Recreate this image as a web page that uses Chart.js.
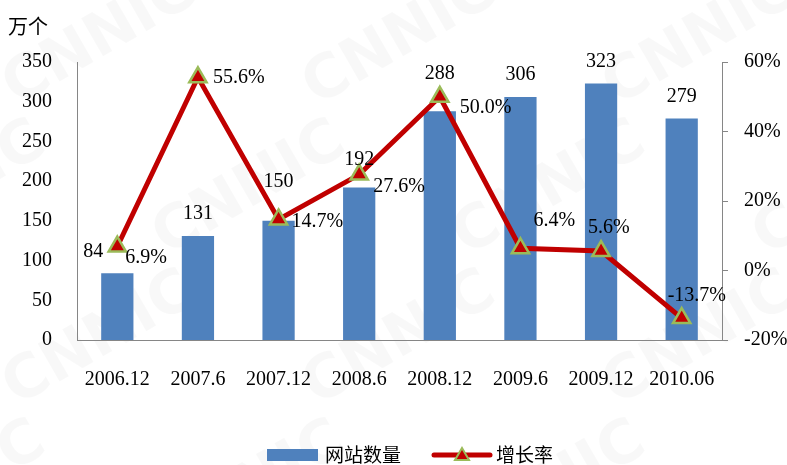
<!DOCTYPE html>
<html>
<head>
<meta charset="utf-8">
<script src="https://cdn.jsdelivr.net/npm/chart.js@4.4.0/dist/chart.umd.min.js"></script>
<style>
html,body{margin:0;padding:0;background:#fff;}
canvas{display:block;}
</style>
</head>
<body>
<canvas id="c" width="787" height="465"></canvas>
<script>
// ---- data ----
const categories = ['2006.12','2007.6','2007.12','2008.6','2008.12','2009.6','2009.12','2010.06'];
const siteCounts = [84, 131, 150, 192, 288, 306, 323, 279];
const growthRates = [6.9, 55.6, 14.7, 27.6, 50.0, 6.4, 5.6, -13.7];
const leftTicks = [0, 350, 50];
const rightTicks = [-20, 60, 20];
const seriesNames = ['网站数量', '增长率'];
const unitLabel = '万个';
// label nudges (pixels, relative to default placement)
const barLabelNudge = [[-24,0],[0,0],[0,-17],[0,-6],[0,-15],[0,0],[0,0],[0,0]];
const rateLabelNudge = [[8,11],[15,0],[13,2],[14,12],[20,11],[13,-28],[-13,-23],[-14,-22]];

const SERIF = '"Liberation Serif","Times New Roman",serif';
const CJK = '"Noto Sans CJK SC","Noto Sans",sans-serif';
const AXIS = '#868686';
const BAR = '#4F81BD';
const LINE = '#C00000';
const MARK = '#9BBB59';

const watermark = {
  id: 'watermark',
  beforeDraw(chart) {
    const ctx = chart.ctx;
    ctx.save();
    ctx.fillStyle = 'rgba(0,0,0,0.028)';
    ctx.font = 'bold 60px "DejaVu Sans", sans-serif';
    ctx.textAlign = 'center';
    ctx.textBaseline = 'middle';
    for (let row = -1; row < 4; row++) {
      for (let col = -1; col < 4; col++) {
        const x = col * 300 + (row % 2 ? 150 : 0) + 100;
        const y = row * 150 + 40;
        ctx.save();
        ctx.translate(x, y);
        ctx.rotate(-Math.PI / 6);
        ctx.fillText('CNNIC', 0, 0);
        ctx.restore();
      }
    }
    ctx.restore();
  }
};

const labels = {
  id: 'labels',
  afterDatasetsDraw(chart) {
    const ctx = chart.ctx;
    ctx.save();
    ctx.fillStyle = '#000';
    ctx.font = '20px ' + SERIF;
    ctx.textBaseline = 'middle';
    const barMeta = chart.getDatasetMeta(0);
    barMeta.data.forEach((el, i) => {
      const n = barLabelNudge[i];
      ctx.textAlign = 'center';
      ctx.fillText(String(siteCounts[i]), el.x + n[0], el.y - 22 + n[1]);
    });
    const lineMeta = chart.getDatasetMeta(1);
    lineMeta.data.forEach((el, i) => {
      const n = rateLabelNudge[i];
      ctx.textAlign = 'left';
      ctx.fillText(growthRates[i].toFixed(1) + '%', el.x + n[0], el.y + n[1]);
    });
    // unit label
    ctx.font = '20px ' + CJK;
    ctx.textAlign = 'left';
    ctx.fillText(unitLabel, 8, 26);
    // legend
    const ly = 455;
    ctx.fillStyle = BAR;
    ctx.fillRect(267, ly - 6, 51, 12);
    ctx.fillStyle = '#000';
    ctx.font = '19px ' + CJK;
    ctx.fillText(seriesNames[0], 325, ly);
    ctx.strokeStyle = LINE;
    ctx.lineWidth = 5;
    ctx.lineCap = 'round';
    ctx.beginPath();
    ctx.moveTo(434, ly);
    ctx.lineTo(490, ly);
    ctx.stroke();
    ctx.beginPath();
    ctx.moveTo(462, ly - 7);
    ctx.lineTo(469, ly + 5);
    ctx.lineTo(455, ly + 5);
    ctx.closePath();
    ctx.fillStyle = LINE;
    ctx.fill();
    ctx.strokeStyle = MARK;
    ctx.lineWidth = 2;
    ctx.lineCap = 'butt';
    ctx.stroke();
    ctx.fillStyle = '#000';
    ctx.fillText(seriesNames[1], 496, ly);
    ctx.restore();
  }
};

new Chart(document.getElementById('c'), {
  data: {
    labels: categories,
    datasets: [
      {
        type: 'bar',
        label: seriesNames[0],
        data: siteCounts,
        backgroundColor: BAR,
        yAxisID: 'y',
        categoryPercentage: 1,
        barPercentage: 0.4,
        order: 1
      },
      {
        type: 'line',
        label: seriesNames[1],
        data: growthRates,
        borderColor: LINE,
        borderWidth: 5,
        backgroundColor: LINE,
        pointStyle: 'triangle',
        pointRadius: 10,
        pointBorderWidth: 2.5,
        pointBorderColor: MARK,
        pointBackgroundColor: LINE,
        tension: 0,
        yAxisID: 'y1',
        order: 0
      }
    ]
  },
  options: {
    responsive: false,
    devicePixelRatio: 1,
    animation: false,
    layout: { padding: { top: 62, left: 0, right: 0, bottom: 0 } },
    plugins: { legend: { display: false }, tooltip: { enabled: false } },
    scales: {
      x: {
        offset: true,
        grid: { display: false },
        border: { color: AXIS, width: 1 },
        ticks: { color: '#000', font: { family: SERIF, size: 20 }, padding: 20, maxRotation: 0, autoSkip: false },
        afterFit(s) { s.height = 125; }
      },
      y: {
        position: 'left',
        min: leftTicks[0], max: leftTicks[1],
        grid: { display: false },
        border: { color: AXIS, width: 1 },
        ticks: { stepSize: leftTicks[2], color: '#000', font: { family: SERIF, size: 20 }, padding: 17 },
        afterFit(s) { s.width = 77; }
      },
      y1: {
        position: 'right',
        min: rightTicks[0], max: rightTicks[1],
        grid: { display: true, drawOnChartArea: false, drawTicks: true, tickLength: 6, color: AXIS },
        border: { color: AXIS, width: 1 },
        ticks: { stepSize: rightTicks[2], color: '#000', font: { family: SERIF, size: 20 }, padding: 16,
                 callback: v => v + '%' },
        afterFit(s) { s.width = 65; }
      }
    }
  },
  plugins: [watermark, labels]
});
</script>
</body>
</html>
